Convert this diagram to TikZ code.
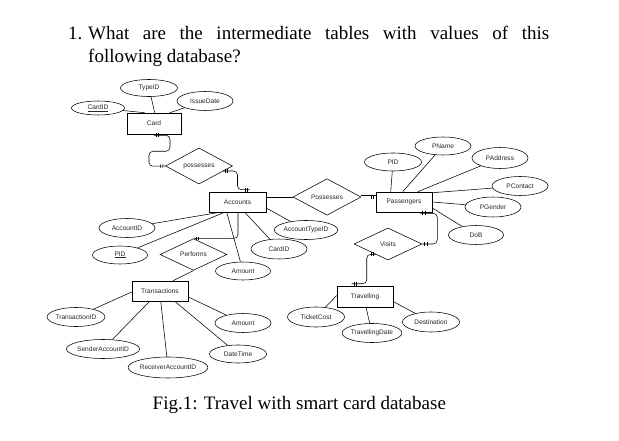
\documentclass[tikz,border=0pt]{standalone}
\usepackage{fontspec}
\setmainfont{Liberation Serif}
\newfontfamily\hdfont{Liberation Serif}
\newfontfamily\lblfont{Liberation Sans}
\usetikzlibrary{shapes.geometric,calc,decorations.markings}
\tikzset{
  lbl/.style={font=\lblfont\fontsize{6.6}{8}\selectfont, text=black!85},
  hd/.style={font=\hdfont\fontsize{19}{23}\selectfont, inner sep=0pt, anchor=base west},
  ent/.style={draw, line width=0.55pt, rectangle, inner sep=0pt, minimum width=56pt, minimum height=20pt, lbl},
  attr/.style={draw, line width=0.55pt, ellipse, inner sep=0pt, minimum width=56pt, minimum height=19pt, lbl},
  rel/.style={draw, line width=0.55pt, diamond, inner sep=0pt, minimum width=67pt, minimum height=31pt, lbl},
  conn/.style={draw, line width=0.55pt, rounded corners=4pt},
  ln/.style={draw, line width=0.55pt},
  startmark/.style={postaction={decorate,decoration={markings,
      mark=at position 3.5pt with {\draw[line width=0.45pt,sharp corners] (-1.1pt,-1.8pt)--(-1.1pt,1.8pt) (1.1pt,-1.8pt)--(1.1pt,1.8pt);}}}},
  endmark/.style={postaction={decorate,decoration={markings,
      mark=at position -3.5pt with {\draw[line width=0.45pt,sharp corners] (-1.1pt,-1.8pt)--(-1.1pt,1.8pt) (1.1pt,-1.8pt)--(1.1pt,1.8pt);}}}},
}
\begin{document}
\begin{tikzpicture}[x=1pt,y=-1pt]
\useasboundingbox (0,0) rectangle (619,441);
% heading and caption
\node[hd] (num) at (68,39.5) {1.};
\node[hd] (l1) at (88,39.5) {\makebox[461pt][s]{What are the intermediate tables with values of this}};
\node[hd] (l2) at (88,62.5) {following database?};
\node[hd] (cap) at (152.5,409) {Fig.1: Travel with smart card database};

% entities
\node[ent, minimum width=54pt, minimum height=21pt] (card) at (154,123.5) {Card};
\node[ent, minimum width=57pt] (acc) at (237.5,202) {Accounts};
\node[ent] (pass) at (404,202) {Passengers};
\node[ent] (trans) at (160,291) {Transactions};
\node[ent, minimum height=21pt] (trav) at (365,296.5) {Travelling};

% relationships
\node[rel] (poss1) at (199,166) {possesses};
\node[rel, minimum width=68pt, minimum height=30pt] (poss2) at (327,197) {Possesses};
\node[rel] (perf) at (193.5,254.5) {Performs};
\node[rel, minimum width=68pt, minimum height=32pt] (visits) at (388,244) {Visits};

% attributes
\node[attr, minimum width=53pt, minimum height=14pt] (cardid1) at (98,108) {\underline{CardID}};
\node[attr, minimum width=57pt, minimum height=17pt] (typeid) at (149,88) {TypeID};
\node[attr] (issue) at (205,101) {IssueDate};
\node[attr, minimum width=57pt, minimum height=18pt] (pid2) at (393,162) {PID};
\node[attr, minimum height=18pt] (pname) at (443,146) {PName};
\node[attr, minimum height=21pt] (paddr) at (500,158) {PAddress};
\node[attr] (pcontact) at (520,186) {PContact};
\node[attr, minimum height=20pt] (pgender) at (493,207) {PGender};
\node[attr, minimum width=55pt] (dob) at (476,235) {DoB};
\node[attr, minimum width=58pt] (acctype) at (306,230) {AccountTypeID};
\node[attr, minimum height=20pt] (cardid2) at (279,249) {CardID};
\node[attr, minimum width=55pt, minimum height=18pt] (amount1) at (243,271) {Amount};
\node[attr] (accid) at (127,228) {AccountID};
\node[attr, minimum width=55pt, minimum height=18pt] (pid1) at (120,255) {\underline{PID}};
\node[attr, minimum width=57pt] (transid) at (76,317) {TransactionID};
\node[attr, minimum width=70pt] (sender) at (103,349) {SenderAccountID};
\node[attr, minimum width=70pt, minimum height=21pt] (receiver) at (168,367.5) {ReceiverAccountID};
\node[attr] (amount2) at (243,323) {Amount};
\node[attr, minimum width=57pt, minimum height=18pt] (datetime) at (238,354) {DateTime};
\node[attr, minimum width=57pt, minimum height=20pt] (ticket) at (316,317) {TicketCost};
\node[attr, minimum width=57pt] (travdate) at (372,333) {TravellingDate};
\node[attr, minimum width=57pt, minimum height=20pt] (dest) at (431,322) {Destination};

% attribute connectors
\path[ln] (cardid1) -- ($(card.north west)+(18,0)$);
\path[ln] (typeid) -- ($(card.north west)+(28,0)$);
\path[ln] (issue) -- ($(card.north west)+(43,0)$);

\path[ln] (accid) -- ($(acc.south west)+(11,0)$);
\path[ln] (pid1) -- ($(acc.south west)+(16,0)$);
\path[ln] (amount1) -- ($(acc.south west)+(18,0)$);
\path[ln] (cardid2) -- ($(acc.south west)+(36,0)$);
\path[ln] (acctype) -- ($(acc.east)+(0,6)$);

\path[ln] (pid2) -- ($(pass.north west)+(15,0)$);
\path[ln] (pname) -- ($(pass.north west)+(27,0)$);
\path[ln] (paddr) -- ($(pass.north west)+(42,0)$);
\path[ln] (pcontact) -- ($(pass.north east)+(0,1)$);
\path[ln] (pgender) -- (pass.east);
\path[ln] (dob) -- ($(pass.east)+(0,6)$);

\path[ln] (transid) -- ($(trans.west)+(0,1)$);
\path[ln] (sender) -- ($(trans.south west)+(18,0)$);
\path[ln] (receiver) -- ($(trans.south west)+(29,0)$);
\path[ln] (datetime) -- ($(trans.south west)+(43,0)$);
\path[ln] (amount2) -- ($(trans.east)+(0,6)$);

\path[ln] (ticket) -- ($(trav.west)+(0,-1)$);
\path[ln] (travdate) -- ($(trav.south)+(1,0)$);
\path[ln] (dest) -- ($(trav.east)+(0,5)$);

% relationship connectors
\path[conn, startmark, endmark] ($(card.south)+(0,1)$) -- ++(16,0) -- ++(0,16) -- ++(-21,0) -- ++(0,15) -- (poss1.west);
\path[conn, startmark, endmark] ($(poss1.east)+(-10,5)$) -| ($(acc.north)+(0,-2)$) -- ++(12,0);
\path[ln] ($(acc.east)+(0,-5)$) -- (poss2.west);
\path[draw, line width=0.5pt, double distance=2pt] (poss2.east) -- (pass.west |- poss2.east);
\path[endmark] (poss2.east) -- (pass.west |- poss2.east);
\path[conn, endmark] ($(acc.south)+(0.5,0)$) |- (perf.north);
\path[ln] (perf.south) -- ($(trans.north)+(13,0)$);
\path[conn, startmark, endmark] ($(pass.south east)+(-12,1)$) -| ($(visits.east)+(15,0)$) -- (visits.east);
\path[conn, startmark, endmark] ($(visits.south)+(-12,-6)$) -| ($(trav.north west)+(30,-2)$) -- ++(-15,0);
\end{tikzpicture}
\end{document}
